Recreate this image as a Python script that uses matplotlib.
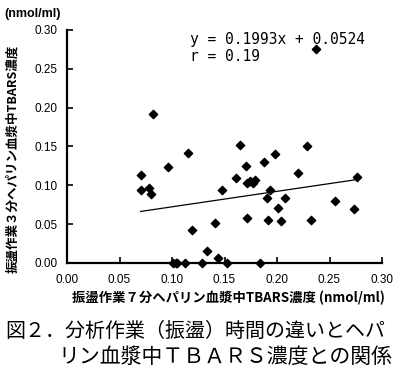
import numpy as np
import matplotlib
matplotlib.use("Agg")
import matplotlib.pyplot as plt

# TBARS (nmol/ml): 7 min shaking (x) vs 3 min shaking (y)
x_7min = [0.070, 0.070, 0.078, 0.080, 0.082, 0.096, 0.115, 0.119, 0.133, 0.141,
          0.144, 0.148, 0.161, 0.165, 0.170, 0.171, 0.171, 0.174, 0.177, 0.179,
          0.188, 0.190, 0.191, 0.193, 0.198, 0.201, 0.204, 0.208, 0.220, 0.229,
          0.232, 0.237, 0.255, 0.273, 0.276,
          0.101, 0.104, 0.105, 0.112, 0.129, 0.152, 0.184]
y_3min = [0.113, 0.094, 0.097, 0.089, 0.192, 0.124, 0.142, 0.043, 0.015, 0.051,
          0.006, 0.094, 0.110, 0.152, 0.125, 0.103, 0.058, 0.105, 0.103, 0.107,
          0.130, 0.084, 0.055, 0.094, 0.140, 0.071, 0.054, 0.084, 0.116, 0.151,
          0.055, 0.275, 0.080, 0.070, 0.111,
          0.0, 0.0, 0.0, 0.0, 0.0, 0.0, 0.0]

slope, intercept, r_value = 0.1993, 0.0524, 0.19
x_ticks = [0.00, 0.05, 0.10, 0.15, 0.20, 0.25, 0.30]
y_ticks = [0.00, 0.05, 0.10, 0.15, 0.20, 0.25, 0.30]

cjk = ['Noto Sans CJK JP', 'DejaVu Sans']

fig = plt.figure(figsize=(4.0, 3.74), dpi=100)
ax = fig.add_axes([0.1675, 0.2968, 0.7875, 0.623])

ax.scatter(x_7min, y_3min, marker='D', s=18, color='black', zorder=3, clip_on=False)
xs = np.array([min(x_7min), max(x_7min)])
ax.plot(xs, slope * xs + intercept, color='black', lw=0.9)

ax.set_xlim(0, 0.30)
ax.set_ylim(0, 0.30)
ax.set_xticks(x_ticks)
ax.set_yticks(y_ticks)
ax.set_xticklabels([f"{t:.2f}" for t in x_ticks], family='Liberation Sans', fontsize=8.5)
ax.set_yticklabels([f"{t:.2f}" for t in y_ticks], family='Liberation Sans', fontsize=8.5)
ax.tick_params(direction='in', length=4, width=1.2)
ax.tick_params(axis='x', pad=8)
ax.tick_params(axis='y', pad=7)
for s in ['top', 'right']:
    ax.spines[s].set_visible(False)
for s in ['left', 'bottom']:
    ax.spines[s].set_linewidth(1.6)

ax.text(0.39, 0.96, f"y = {slope}x + {intercept}", transform=ax.transAxes,
        family='DejaVu Sans Mono', fontsize=10.5, va='center')
ax.text(0.39, 0.885, f"r = {r_value}", transform=ax.transAxes,
        family='DejaVu Sans Mono', fontsize=10.5, va='center')

fig.text(0.012, 0.962, "(nmol/ml)", family='Liberation Sans', fontweight='bold',
         fontsize=9, va='center')
fig.text(0.032, 0.575, "振盪作業３分ヘパリン血漿中TBARS濃度", family=cjk,
         fontweight='bold', fontsize=9, rotation=90, ha='center', va='center')
fig.text(0.572, 0.203, "振盪作業７分ヘパリン血漿中TBARS濃度 (nmol/ml)", family=cjk,
         fontweight='bold', fontsize=9.6, ha='center', va='center')

fig.text(0.012, 0.115, "図２．分析作業（振盪）時間の違いとヘパ", family=cjk,
         fontsize=14.4, ha='left', va='center')
fig.text(0.145, 0.045, "リン血漿中ＴＢＡＲＳ濃度との関係", family=cjk,
         fontsize=15, ha='left', va='center')

fig.savefig("out.png", dpi=100)
